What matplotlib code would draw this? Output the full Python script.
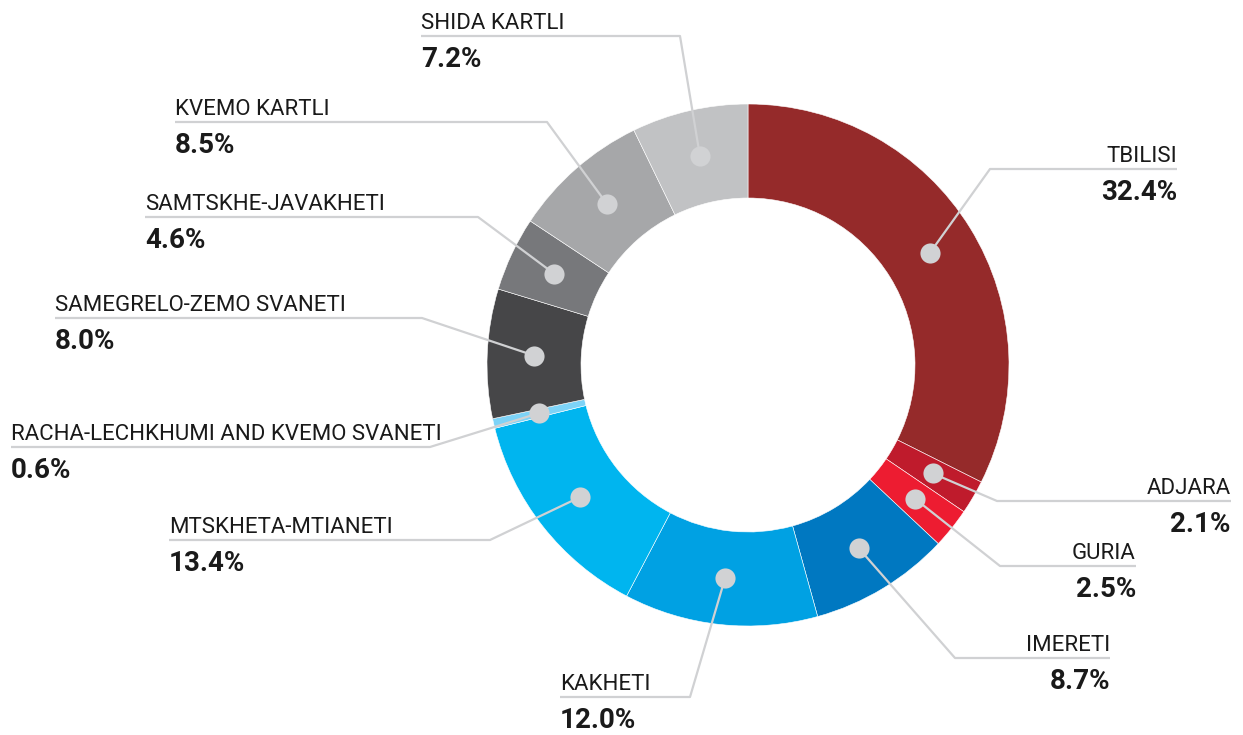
import numpy as np
import matplotlib
matplotlib.use("Agg")
import matplotlib.pyplot as plt

# ---------------- data ----------------
regions = ["TBILISI", "ADJARA", "GURIA", "IMERETI", "KAKHETI",
           "MTSKHETA-MTIANETI", "RACHA-LECHKHUMI AND KVEMO SVANETI",
           "SAMEGRELO-ZEMO SVANETI", "SAMTSKHE-JAVAKHETI", "KVEMO KARTLI",
           "SHIDA KARTLI"]
shares = [32.4, 2.1, 2.5, 8.7, 12.0, 13.4, 0.6, 8.0, 4.6, 8.5, 7.2]
colors = ["#952a2a", "#bf1b2c", "#ed1c31", "#0078c1", "#00a1e3",
          "#00b5ef", "#7dd3f7", "#464648", "#77787b", "#a6a7a9", "#c1c2c4"]

# label layout (pixel coords, y down): elbow x, line y, far end x, align
label_layout = [
    (990, 169, 1177, "right"),
    (997, 501, 1231, "right"),
    (1000, 566, 1136, "right"),
    (955, 658, 1110, "right"),
    (690, 697, 560, "left"),
    (490, 540, 169, "left"),
    (430, 447, 11, "left"),
    (422, 318, 55, "left"),
    (478, 217, 145, "left"),
    (547, 122, 175, "left"),
    (680, 36, 421, "left"),
]

W, H = 1243, 735
cx, cy = 748, 365
r_out, r_in = 261, 167
r_dot = (r_out + r_in) / 2

LINE_C = "#d0d1d3"
DOT_C = "#d1d2d4"
TXT_C = "#1a1a1a"
FONT = ["Roboto", "DejaVu Sans"]

fig = plt.figure(figsize=(W / 100, H / 100), dpi=100)
ax = fig.add_axes([0, 0, 1, 1])

# y axis is inverted below, so data-counterclockwise reads clockwise on screen
wedges, _ = ax.pie(shares, colors=colors, startangle=-90, counterclock=True,
                   center=(cx, cy), radius=r_out,
                   wedgeprops=dict(width=r_out - r_in, linewidth=0.4,
                                   edgecolor="white"))

ax.set_xlim(0, W)
ax.set_ylim(H, 0)
ax.set_aspect("equal")
ax.axis("off")

for w, name, val, (ex, ly, fx, ha) in zip(wedges, regions, shares, label_layout):
    mid = np.deg2rad((w.theta1 + w.theta2) / 2)
    dx = cx + r_dot * np.cos(mid)
    dy = cy + r_dot * np.sin(mid)
    ax.plot([dx, ex, fx], [dy, ly, ly], color=LINE_C, lw=1.6,
            solid_capstyle="butt", zorder=3)
    ax.plot(dx, dy, "o", ms=14.5, color=DOT_C, mec="none", zorder=4)
    ax.text(fx, ly - 7, name, ha=ha, va="baseline", fontsize=16,
            color=TXT_C, family=FONT)
    ax.text(fx, ly + 31, f"{val:.1f}%", ha=ha, va="baseline", fontsize=20,
            fontweight="bold", color=TXT_C, family=FONT)

fig.savefig("out.png", dpi=100)
